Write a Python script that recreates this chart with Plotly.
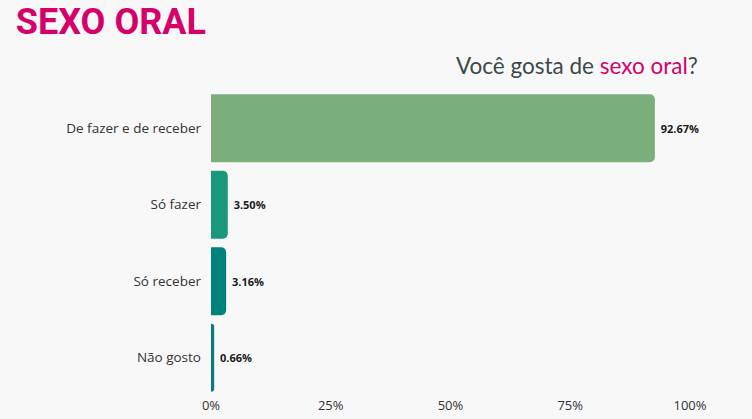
import plotly.graph_objects as go

categorias = ['De fazer e de receber', 'Só fazer', 'Só receber', 'Não gosto']
percentuais = [92.67, 3.50, 3.16, 0.66]
cores = ['#7aaf7c', '#17997a', '#00827b', '#087a83']
ticks_x = [0, 25, 50, 75, 100]
ticks_x_txt = ['0%', '25%', '50%', '75%', '100%']

fig = go.Figure()

fig.add_trace(
    go.Bar(
        x=percentuais,
        y=categorias,
        orientation='h',
        marker=dict(color=cores, line=dict(width=0)),
        # espaço na frente para afastar o rótulo da barra
        text=[f' {v:.2f}%' for v in percentuais],
        textposition='outside',
        textfont=dict(family='Open Sans', size=11, color='#1a1a1a', weight='bold'),
        cliponaxis=False,
        hoverinfo='skip',
    )
)

fig.update_layout(
    width=752,
    height=419,
    paper_bgcolor='#f8f8f8',
    plot_bgcolor='#f8f8f8',
    showlegend=False,
    bargap=0.11,
    barcornerradius=5,
    margin=dict(l=211, r=62, t=90, b=23),
    title=dict(
        text='<b>SEXO ORAL</b>',
        font=dict(family='Roboto', size=36, color='#d6006b'),
        x=0.021,
        xanchor='left',
        y=0.978,
        yanchor='top',
        xref='container',
        yref='container',
    ),
    annotations=[
        dict(
            text='Você gosta de <span style="color:#d6006b">sexo oral</span>?',
            xref='paper',
            yref='paper',
            x=1.02,
            y=1.03,
            xanchor='right',
            yanchor='bottom',
            showarrow=False,
            font=dict(family='Lato', size=22.5, color='#3b4a48'),
        )
    ],
    xaxis=dict(
        range=[0, 100],
        tickvals=ticks_x,
        ticktext=ticks_x_txt,
        showgrid=False,
        zeroline=False,
        showline=False,
        automargin=False,
        tickfont=dict(family='Open Sans', size=13, color='#333333'),
    ),
    yaxis=dict(
        autorange='reversed',
        showgrid=False,
        zeroline=False,
        showline=False,
        automargin=False,
        ticklabelstandoff=9,
        tickfont=dict(family='Open Sans', size=13.5, color='#333333'),
    ),
)

fig.write_html(
    'out.html',
    config={'displayModeBar': False},
    post_script="document.body.style.margin='0';",
)
